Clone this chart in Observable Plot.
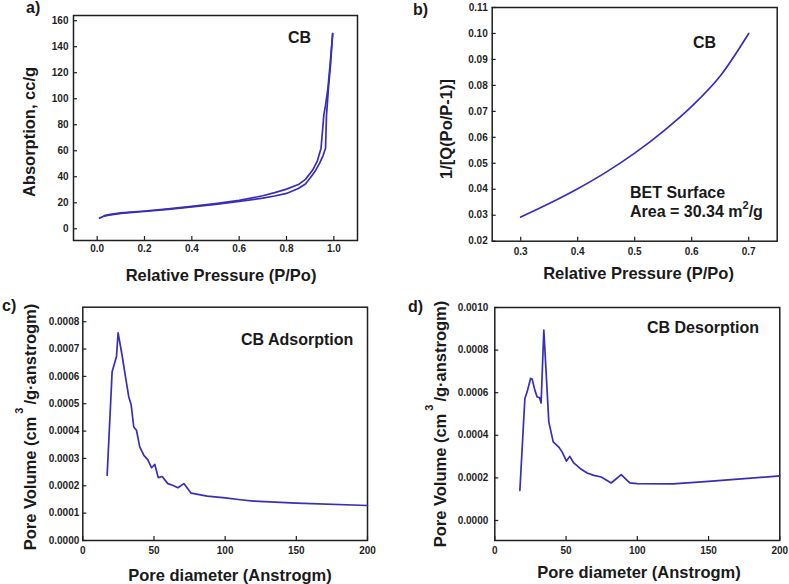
<!DOCTYPE html>
<html>
<head>
<meta charset="utf-8">
<script src="https://cdn.jsdelivr.net/npm/d3@7"></script>
<script src="https://cdn.jsdelivr.net/npm/@observablehq/plot@0.6"></script>
<style>
  html, body { margin: 0; padding: 0; background: #fff; }
  #root { position: relative; width: 789px; height: 584px; overflow: hidden; background: #fff;
          font-family: "Liberation Sans", Arial, sans-serif; font-weight: bold; color: #1a1a1a; }
  .panel { position: absolute; }
  .t { position: absolute; white-space: nowrap; line-height: 1; }
  .c { transform: translate(-50%, -50%); }
  .l { transform: translate(0, -50%); }
  .v { transform: translate(-50%, -50%) rotate(-90deg); }
  .sup { position: relative; font-size: 11px; }
</style>
</head>
<body>
<div id="root"></div>
<script>
// ---- Panel a: isotherm (adsorption / desorption) ----
const adsP = [0.01, 0.03, 0.05, 0.1, 0.15, 0.2, 0.3, 0.4, 0.5, 0.6, 0.7, 0.75, 0.8, 0.85, 0.88, 0.9, 0.92, 0.94, 0.955, 0.965, 0.969, 0.978, 0.986, 0.995];
const adsV = [8.2, 9.8, 10.5, 11.8, 12.6, 13.3, 15.0, 16.8, 18.8, 21.0, 23.6, 25.2, 27.2, 31.0, 34.5, 39.0, 44.0, 50.5, 56.5, 62.0, 87.0, 110.0, 126.0, 150.0];
const desP = [0.995, 0.985, 0.975, 0.965, 0.958, 0.946, 0.93, 0.91, 0.88, 0.85, 0.8, 0.75, 0.7, 0.6, 0.5, 0.4, 0.3, 0.2, 0.1, 0.05, 0.03];
const desV = [150.0, 128.0, 108.0, 95.0, 88.0, 62.0, 52.0, 45.0, 38.0, 34.0, 30.5, 27.8, 25.4, 21.8, 19.3, 17.2, 15.3, 13.7, 12.2, 10.9, 10.2];
const aXTicks = [0, 0.2, 0.4, 0.6, 0.8, 1.0];
const aYTicks = [0, 20, 40, 60, 80, 100, 120, 140, 160];

// ---- Panel b: BET plot ----
const betP = [0.3, 0.35, 0.4, 0.45, 0.5, 0.55, 0.6, 0.65, 0.7];
const betY = [0.0293, 0.0345, 0.0402, 0.0466, 0.0539, 0.0623, 0.0719, 0.0836, 0.1000];
const bXTicks = [0.3, 0.4, 0.5, 0.6, 0.7];
const bYTicks = [0.02, 0.03, 0.04, 0.05, 0.06, 0.07, 0.08, 0.09, 0.10, 0.11];

// ---- Panel c: pore size distribution, adsorption ----
const adsD = [17.1, 20.6, 23.7, 24.8, 27.5, 30, 32.3, 34, 35.8, 37.7, 40, 42.9, 45.7, 48.3, 50.6, 53, 55.8, 59.7, 63.5, 66.8, 71, 76.1, 87.4, 100, 110.8, 120, 150, 200];
const adsPV = [0.000238, 0.000617, 0.000674, 0.000759, 0.00068, 0.000598, 0.000525, 0.000495, 0.000415, 0.000403, 0.000342, 0.000311, 0.000295, 0.000266, 0.000278, 0.00023, 0.000234, 0.000208, 0.000201, 0.000193, 0.000208, 0.000173, 0.000162, 0.000156, 0.000149, 0.000144, 0.000137, 0.000128];
const cXTicks = [0, 50, 100, 150, 200];
const cYTicks = [0, 0.0001, 0.0002, 0.0003, 0.0004, 0.0005, 0.0006, 0.0007, 0.0008];

// ---- Panel d: pore size distribution, desorption ----
const desD = [17.6, 21.1, 22.7, 25.1, 26.2, 28.1, 29.7, 31.4, 32.5, 34.4, 37.9, 41, 44.9, 47.3, 50.3, 52.6, 55.4, 60.1, 64.8, 69.5, 74.7, 81.7, 88.7, 94.7, 100, 125, 150, 200];
const desPV = [0.000141, 0.000573, 0.000604, 0.000667, 0.000664, 0.000612, 0.00058, 0.000577, 0.000552, 0.000894, 0.000463, 0.000369, 0.000345, 0.000321, 0.000279, 0.000301, 0.00027, 0.000243, 0.000223, 0.000212, 0.000204, 0.000176, 0.000215, 0.000177, 0.000173, 0.000172, 0.000184, 0.000209];
const dXTicks = [0, 50, 100, 150, 200];
const dYTicks = [0, 0.0002, 0.0004, 0.0006, 0.0008, 0.0010];

const LINE = "#3a2db8";
const INK = "#1f1f1f";

function pairs(xs, ys) { return xs.map((x, i) => ({x, y: ys[i]})); }

function panel(o) {
  const marks = [
    Plot.frame({stroke: INK, strokeWidth: 1.5}),
    Plot.axisX({ticks: o.xTicks, tickSize: 4, dy: -4, tickFormat: () => "", label: null, stroke: INK, strokeWidth: 1.2}),
    Plot.axisY({ticks: o.yTicks, tickSize: 4, dx: 4, tickFormat: () => "", label: null, stroke: INK, strokeWidth: 1.2}),
    Plot.axisX({ticks: o.xTicks, tickSize: 0, tickPadding: o.xPad, tickFormat: o.xFmt, label: null, fill: INK}),
    Plot.axisY({ticks: o.yTicks, tickSize: 0, tickPadding: o.yPad, tickFormat: o.yFmt, label: null, fill: INK}),
    ...o.series.map(s => Plot.line(s, {x: "x", y: "y", stroke: LINE, strokeWidth: 1.7, curve: o.curve || "linear"}))
  ];
  const svg = Plot.plot({
    width: o.w, height: o.h,
    marginLeft: o.ml, marginRight: o.mr, marginTop: o.mt, marginBottom: o.mb,
    x: {domain: o.xDomain},
    y: {domain: o.yDomain},
    style: {fontFamily: "'Liberation Sans', Arial, sans-serif", fontSize: "10px", fontWeight: "bold", background: "transparent", overflow: "visible"},
    marks
  });
  const div = document.createElement("div");
  div.className = "panel";
  div.style.left = o.left + "px";
  div.style.top = o.top + "px";
  div.appendChild(svg);
  root.appendChild(div);
}

const root = document.getElementById("root");

panel({left: 0, top: 0, w: 395, h: 290, ml: 73, mr: 38, mt: 15, mb: 50,
  xDomain: [-0.1, 1.1], yDomain: [-9, 164], xTicks: aXTicks, yTicks: aYTicks,
  xFmt: d3.format(".1f"), yFmt: d3.format("d"), xPad: 4, yPad: 5,
  series: [pairs(adsP, adsV), pairs(desP, desV)]});

panel({left: 400, top: 0, w: 389, h: 290, ml: 91.7, mr: 12.3, mt: 7, mb: 49.3,
  xDomain: [0.25, 0.75], yDomain: [0.02, 0.11], xTicks: bXTicks, yTicks: bYTicks,
  xFmt: d3.format(".1f"), yFmt: d3.format(".2f"), xPad: 7, yPad: 4.5,
  series: [pairs(betP, betY)], curve: "monotone-x"});

panel({left: 0, top: 290, w: 395, h: 294, ml: 82.3, mr: 28, mt: 16.7, mb: 44,
  xDomain: [0, 200], yDomain: [0, 0.000853], xTicks: cXTicks, yTicks: cYTicks,
  xFmt: d3.format("d"), yFmt: d3.format(".4f"), xPad: 6, yPad: 3.5,
  series: [pairs(adsD, adsPV)]});

panel({left: 400, top: 290, w: 389, h: 294, ml: 94.3, mr: 9.7, mt: 17, mb: 44,
  xDomain: [0, 200], yDomain: [-0.000094, 0.001], xTicks: dXTicks, yTicks: dYTicks,
  xFmt: d3.format("d"), yFmt: d3.format(".4f"), xPad: 6, yPad: 6.5,
  series: [pairs(desD, desPV)]});

// ---- Text overlays ----
const texts = [
  {html: "a)", x: 26, y: 8, size: 16, cls: "l"},
  {html: "b)", x: 413, y: 10, size: 16, cls: "l"},
  {html: "c)", x: 2, y: 306, size: 16, cls: "l"},
  {html: "d)", x: 408, y: 307, size: 16, cls: "l"},
  {html: "CB", x: 288, y: 38, size: 16, cls: "l"},
  {html: "CB", x: 693, y: 43, size: 16, cls: "l"},
  {html: "BET Surface", x: 630, y: 193, size: 16, cls: "l"},
  {html: 'Area = 30.34 m<span class="sup" style="top:-8px">2</span>/g', x: 630, y: 212, size: 16, cls: "l"},
  {html: "CB Adsorption", x: 241, y: 340, size: 16, cls: "l"},
  {html: "CB Desorption", x: 647, y: 328, size: 16, cls: "l"},
  {html: "Relative Pressure (P/Po)", x: 221, y: 275, size: 16.5, cls: "c"},
  {html: "Relative Pressure (P/Po)", x: 638.5, y: 273, size: 16.5, cls: "c"},
  {html: "Pore diameter (Anstrogm)", x: 230, y: 575, size: 16.5, cls: "c"},
  {html: "Pore diameter (Anstrogm)", x: 639, y: 572, size: 16.5, cls: "c"},
  {html: "Absorption, cc/g", x: 28.5, y: 132, size: 16.5, cls: "v"},
  {html: "1/[Q(Po/P-1)]", x: 445.5, y: 129, size: 16.5, cls: "v"},
  {html: 'Pore Volume (cm<span class="sup" style="top:-13px;padding:0 3px">3</span>/g·anstrogm)', x: 30, y: 427, size: 16.5, cls: "v"},
  {html: 'Pore Volume (cm<span class="sup" style="top:-13px;padding:0 3px">3</span>/g·anstrogm)', x: 440, y: 424, size: 16.5, cls: "v"}
];
for (const t of texts) {
  const el = document.createElement("div");
  el.className = "t " + t.cls;
  el.style.left = t.x + "px";
  el.style.top = t.y + "px";
  el.style.fontSize = t.size + "px";
  el.innerHTML = t.html;
  root.appendChild(el);
}
</script>
</body>
</html>
